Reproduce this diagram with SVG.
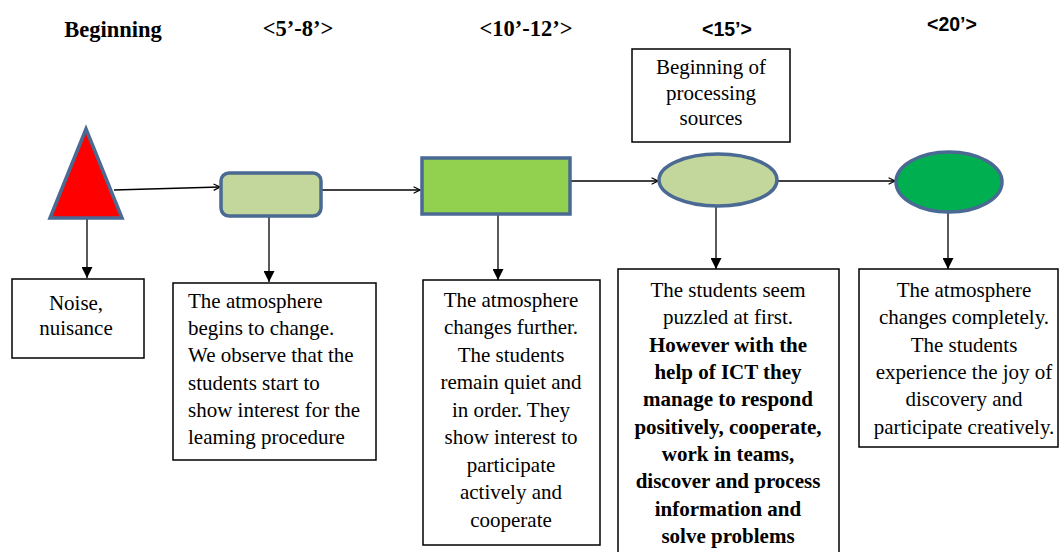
<svg xmlns="http://www.w3.org/2000/svg" width="1059" height="552" viewBox="0 0 1059 552">
<defs>
<style>
.hd{font-family:"Liberation Serif",serif;font-weight:bold;font-size:22.5px;fill:#000;text-anchor:middle}
.hs{font-family:"Liberation Sans",sans-serif;font-weight:bold;font-size:19.5px;fill:#000;text-anchor:middle}
.t{font-family:"Liberation Serif",serif;font-size:21px;fill:#000}
.c{text-anchor:middle}
.b{font-weight:bold}
.box{fill:#fff;stroke:#000;stroke-width:1.5}
.shape{stroke:#4a6a94;stroke-width:3.5}
.ln{stroke:#000;stroke-width:1.3;fill:none}
</style>
<marker id="open" viewBox="0 0 10 10" refX="9" refY="5" markerWidth="8" markerHeight="8" markerUnits="userSpaceOnUse" orient="auto">
<path d="M1,1 L9,5 L1,9" fill="none" stroke="#000" stroke-width="1.5"/>
</marker>
<marker id="solid" viewBox="0 0 10 10" refX="10" refY="5" markerWidth="11" markerHeight="11" markerUnits="userSpaceOnUse" orient="auto">
<path d="M0,0 L10,5 L0,10 Z" fill="#000"/>
</marker>
</defs>
<rect width="1059" height="552" fill="#fff"/>
<g id="headers">
<text class="hd" x="113" y="37">Beginning</text>
<text class="hd" x="298" y="36">&lt;5’-8’&gt;</text>
<text class="hd" x="526" y="36">&lt;10’-12’&gt;</text>
<text class="hs" x="727" y="36">&lt;15’&gt;</text>
<text class="hs" x="952" y="31">&lt;20’&gt;</text>
</g>
<g id="connectors">
<line class="ln" x1="114" y1="190" x2="220" y2="187" marker-end="url(#open)"/>
<line class="ln" x1="322" y1="190" x2="420" y2="190" marker-end="url(#open)"/>
<line class="ln" x1="571" y1="181" x2="658" y2="181" marker-end="url(#open)"/>
<line class="ln" x1="778" y1="181" x2="895" y2="181" marker-end="url(#open)"/>
<line class="ln" x1="87" y1="219" x2="87" y2="278" marker-end="url(#solid)"/>
<line class="ln" x1="269" y1="217" x2="269" y2="282" marker-end="url(#solid)"/>
<line class="ln" x1="498" y1="215" x2="498" y2="280" marker-end="url(#solid)"/>
<line class="ln" x1="716" y1="207" x2="716" y2="269" marker-end="url(#solid)"/>
<line class="ln" x1="948" y1="212" x2="948" y2="269" marker-end="url(#solid)"/>
</g>
<g id="triangle">
<polygon class="shape" points="86,129 50,218 122,218" fill="#ff0000"/>
</g>
<g id="roundrect">
<rect class="shape" x="221" y="173" width="100" height="43" rx="8" fill="#c3d69b"/>
</g>
<g id="rect">
<rect class="shape" x="422" y="158" width="148" height="56" fill="#92d050"/>
</g>
<g id="ellipse1">
<ellipse class="shape" cx="718" cy="180" rx="59" ry="26" fill="#c3d69b"/>
</g>
<g id="ellipse2">
<ellipse class="shape" cx="949" cy="182" rx="53" ry="30" fill="#00b050"/>
</g>
<g id="processing">
<rect class="box" x="632" y="49" width="158" height="93"/>
<text class="t c" x="711" y="74" font-size="17.5">Beginning of</text>
<text class="t c" x="711" y="100" font-size="17.5">processing</text>
<text class="t c" x="711" y="125" font-size="17.5">sources</text>
</g>
<g id="box1">
<rect class="box" x="12" y="279" width="132" height="79"/>
<text class="t c" x="76" y="310">Noise,</text>
<text class="t c" x="76" y="335">nuisance</text>
</g>
<g id="box2">
<rect class="box" x="173" y="283" width="203" height="177"/>
<text class="t" x="188" y="308">The atmosphere</text>
<text class="t" x="188" y="335">begins to change.</text>
<text class="t" x="188" y="362">We observe that the</text>
<text class="t" x="188" y="390">students start to</text>
<text class="t" x="188" y="417">show interest  for the</text>
<text class="t" x="188" y="444">leaming procedure</text>
</g>
<g id="box3">
<rect class="box" x="423" y="280" width="177" height="265"/>
<text class="t c" x="511" y="307">The atmosphere</text>
<text class="t c" x="511" y="334">changes further.</text>
<text class="t c" x="511" y="362">The students</text>
<text class="t c" x="511" y="389">remain quiet and</text>
<text class="t c" x="511" y="417">in order. They</text>
<text class="t c" x="511" y="444">show interest to</text>
<text class="t c" x="511" y="472">participate</text>
<text class="t c" x="511" y="499">actively and</text>
<text class="t c" x="511" y="527">cooperate</text>
</g>
<g id="box4">
<rect class="box" x="618" y="269" width="221" height="290"/>
<text class="t c" x="728" y="297">The students seem</text>
<text class="t c" x="728" y="324">puzzled at first.</text>
<text class="t c b" x="728" y="352">However with  the</text>
<text class="t c b" x="728" y="379">help of ICT they</text>
<text class="t c b" x="728" y="406">manage to respond</text>
<text class="t c b" x="728" y="434">positively, cooperate,</text>
<text class="t c b" x="728" y="461">work in teams,</text>
<text class="t c b" x="728" y="488">discover and process</text>
<text class="t c b" x="728" y="516">information and</text>
<text class="t c b" x="728" y="543">solve problems</text>
</g>
<g id="box5">
<rect class="box" x="859" y="269" width="199" height="178"/>
<text class="t c" x="964" y="297">The atmosphere</text>
<text class="t c" x="964" y="324">changes completely.</text>
<text class="t c" x="964" y="352">The students</text>
<text class="t c" x="964" y="379">experience the joy of</text>
<text class="t c" x="964" y="406">discovery and</text>
<text class="t c" x="964" y="434">participate creatively.</text>
</g>
</svg>
